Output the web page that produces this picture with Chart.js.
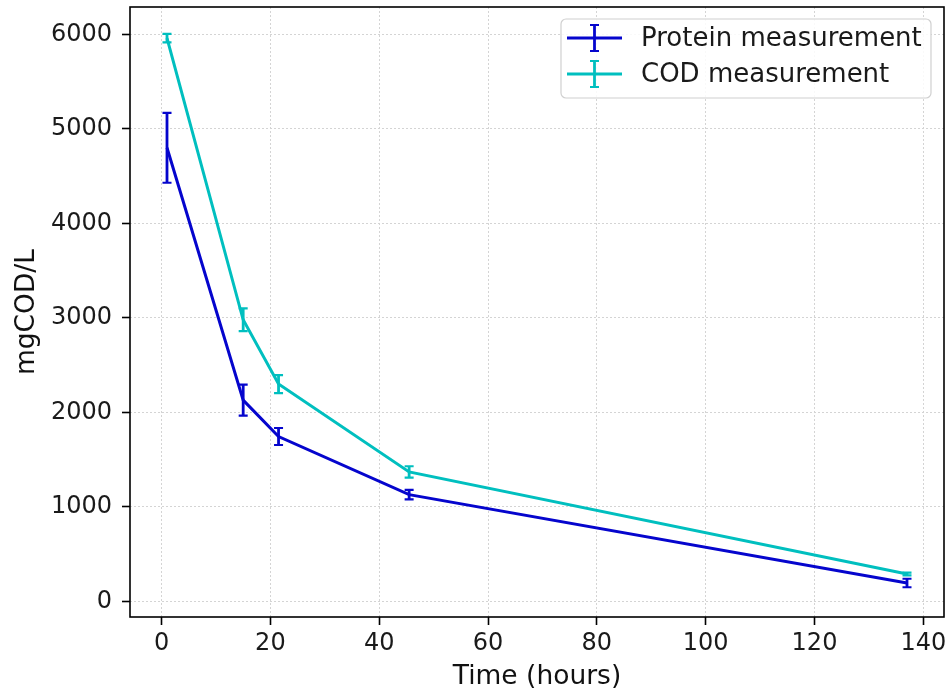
<!DOCTYPE html>
<html>
<head>
<meta charset="utf-8">
<script src="https://cdn.jsdelivr.net/npm/chart.js@4.4.1/dist/chart.umd.min.js"></script>
<style>
  body { margin: 0; background: #fff; }
  #wrap { width: 950px; height: 694px; }
</style>
</head>
<body>
<div id="wrap"><canvas id="cod_chart" width="950" height="694"></canvas></div>
<script>
// values
const timeHours = [1, 15, 21.5, 45.5, 137];
const proteinValues = [4800, 2130, 1745, 1130, 195];
const proteinErr = [370, 165, 90, 50, 45];
const codValues = [5960, 2980, 2300, 1370, 290];
const codErr = [45, 120, 95, 60, 15];
const xTicks = [0, 20, 40, 60, 80, 100, 120, 140];
const yTicks = [0, 1000, 2000, 3000, 4000, 5000, 6000];

const FONT = "'DejaVu Sans', sans-serif";
const BLUE = '#0505cd';
const CYAN = '#00bfbf';

function toPoints(xs, ys) {
    return xs.map((x, i) => ({ x: x, y: ys[i] }));
}

// matplotlib style error bars, drawn through the chart scales
const errorBars = {
    id: 'errorBars',
    afterDatasetDraw(chart, args) {
        const ds = chart.data.datasets[args.index];
        if (!ds.errors) return;
        const ctx = chart.ctx;
        const xs = chart.scales.x, ys = chart.scales.y;
        ctx.save();
        ctx.strokeStyle = ds.borderColor;
        ds.data.forEach((p, i) => {
            const px = xs.getPixelForValue(p.x);
            const top = ys.getPixelForValue(p.y + ds.errors[i]);
            const bot = ys.getPixelForValue(p.y - ds.errors[i]);
            ctx.lineWidth = 2.8;
            ctx.beginPath();
            ctx.moveTo(px, top); ctx.lineTo(px, bot);
            ctx.stroke();
            ctx.lineWidth = 2.2;
            ctx.beginPath();
            ctx.moveTo(px - 4.5, top); ctx.lineTo(px + 4.5, top);
            ctx.moveTo(px - 4.5, bot); ctx.lineTo(px + 4.5, bot);
            ctx.stroke();
        });
        ctx.restore();
    }
};

// full box around plot + legend inside the upper right corner
const frameAndLegend = {
    id: 'frameAndLegend',
    afterDraw(chart) {
        const ctx = chart.ctx;
        const a = chart.chartArea;
        ctx.save();
        ctx.strokeStyle = '#000';
        ctx.lineWidth = 1.6;
        ctx.strokeRect(a.left, a.top, a.right - a.left, a.bottom - a.top);

        const w = 370, h = 79;
        const bx = a.right - 13 - w, by = a.top + 12;
        ctx.beginPath();
        ctx.roundRect(bx, by, w, h, 5);
        ctx.fillStyle = 'rgba(255,255,255,0.85)';
        ctx.fill();
        ctx.strokeStyle = '#d0d0d0';
        ctx.lineWidth = 1.2;
        ctx.stroke();

        ctx.font = '26px ' + FONT;
        ctx.textBaseline = 'middle';
        chart.data.datasets.forEach((ds, i) => {
            const cy = by + 19 + i * 36;
            const x0 = bx + 6, x1 = bx + 61, cx = (x0 + x1) / 2;
            ctx.strokeStyle = ds.borderColor;
            ctx.lineWidth = 3;
            ctx.beginPath();
            ctx.moveTo(x0, cy); ctx.lineTo(x1, cy);
            ctx.stroke();
            ctx.lineWidth = 2.8;
            ctx.beginPath();
            ctx.moveTo(cx, cy - 13); ctx.lineTo(cx, cy + 13);
            ctx.stroke();
            ctx.lineWidth = 2.2;
            ctx.beginPath();
            ctx.moveTo(cx - 4.5, cy - 13); ctx.lineTo(cx + 4.5, cy - 13);
            ctx.moveTo(cx - 4.5, cy + 13); ctx.lineTo(cx + 4.5, cy + 13);
            ctx.stroke();
            ctx.fillStyle = '#1a1a1a';
            ctx.fillText(ds.label, bx + 80, cy + 1);
        });
        ctx.restore();
    }
};

const gridOpts = {
    color: '#d4d4d4',
    lineWidth: 1,
    tickColor: '#000',
    tickLength: 8,
    tickWidth: 1.6
};

new Chart(document.getElementById('cod_chart'), {
    type: 'line',
    data: {
        datasets: [
            {
                label: 'Protein measurement',
                data: toPoints(timeHours, proteinValues),
                errors: proteinErr,
                borderColor: BLUE,
                borderWidth: 3,
                pointRadius: 0,
                tension: 0,
                order: 1
            },
            {
                label: 'COD measurement',
                data: toPoints(timeHours, codValues),
                errors: codErr,
                borderColor: CYAN,
                borderWidth: 3,
                pointRadius: 0,
                tension: 0,
                order: 0
            }
        ]
    },
    options: {
        responsive: false,
        animation: false,
        layout: { padding: { top: 7, right: 6, left: 0, bottom: 0 } },
        plugins: {
            legend: { display: false },
            tooltip: { enabled: false }
        },
        scales: {
            x: {
                type: 'linear',
                min: -5.8,
                max: 143.8,
                afterBuildTicks: s => { s.ticks = xTicks.map(v => ({ value: v })); },
                afterFit: s => { s.height = 77; s.paddingLeft = 0; s.paddingRight = 0; },
                grid: gridOpts,
                border: { display: false, dash: [2, 2] },
                ticks: {
                    color: '#1a1a1a', padding: 4, maxRotation: 0,
                    font: { family: FONT, size: 24 },
                    callback: v => String(v)
                },
                title: {
                    display: true,
                    text: 'Time (hours)',
                    color: '#111',
                    font: { family: FONT, size: 26.5 },
                    padding: { top: 0, bottom: 1 }
                }
            },
            y: {
                type: 'linear',
                min: -165,
                max: 6290,
                afterBuildTicks: s => { s.ticks = yTicks.map(v => ({ value: v })); },
                afterFit: s => { s.width = 130; s.paddingTop = 0; s.paddingBottom = 0; },
                grid: gridOpts,
                border: { display: false, dash: [2, 2] },
                ticks: {
                    color: '#1a1a1a', padding: 10,
                    font: { family: FONT, size: 24 },
                    callback: v => String(v)
                },
                title: {
                    display: true,
                    text: 'mgCOD/L',
                    color: '#111',
                    font: { family: FONT, size: 26.5 },
                    padding: { top: 11, bottom: 0 }
                }
            }
        }
    },
    plugins: [errorBars, frameAndLegend]
});
</script>
</body>
</html>
